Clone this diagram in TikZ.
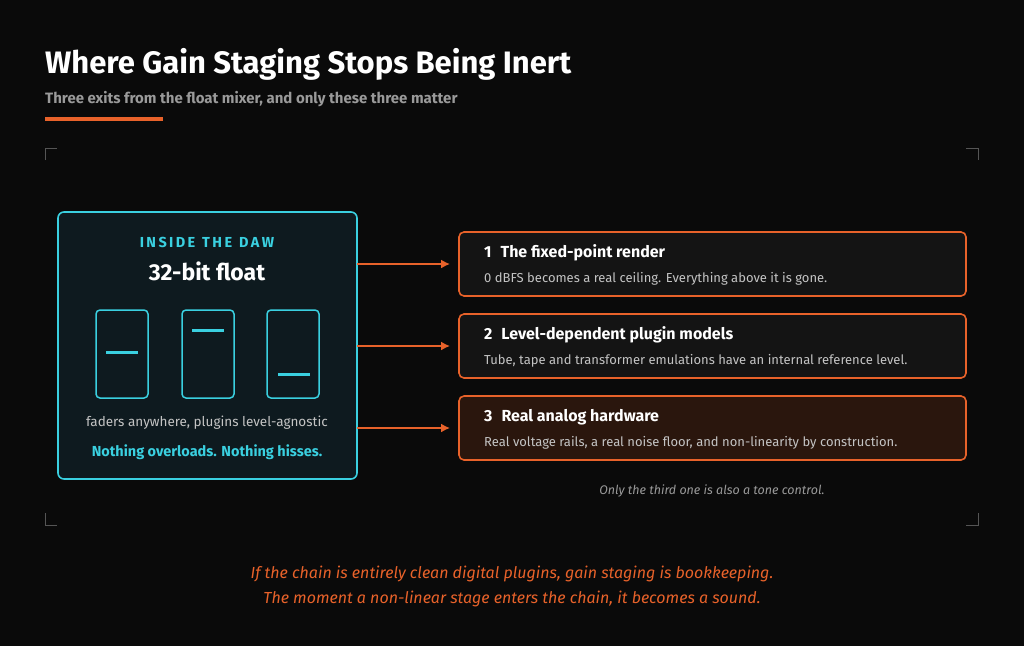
\documentclass[tikz,border=0pt]{standalone}
\usepackage{fontspec}
\usetikzlibrary{arrows.meta}
\setmainfont{Fira Sans}
\definecolor{bg}{HTML}{0A0A0A}
\definecolor{cy}{HTML}{3AD0E0}
\definecolor{cyfill}{HTML}{0E1A1F}
\definecolor{orng}{HTML}{E8622A}
\definecolor{boxfill}{HTML}{141414}
\definecolor{hotfill}{HTML}{2A160D}
\definecolor{gry}{HTML}{9A9A9A}
\definecolor{lgry}{HTML}{C4C4C4}
\definecolor{corner}{HTML}{555555}
\begin{document}
\begin{tikzpicture}[x=1pt,y=-1pt,
  exitbox/.style={draw=orng,line width=1.6pt,rounded corners=5pt,fill=boxfill},
  fader/.style={draw=cy,line width=1.5pt,rounded corners=4pt},
  knob/.style={cy,line width=3pt},
  arr/.style={orng,line width=1.6pt,-{Latex[length=9pt,width=9pt]}},
  ttl/.style={anchor=base west,text=white,font=\fontsize{16}{18}\selectfont\bfseries,inner sep=0},
  dsc/.style={anchor=base west,text=lgry,font=\fontsize{13}{15}\selectfont,inner sep=0},
  cmark/.style={corner,line width=1pt}]
\useasboundingbox (0,0) rectangle (1024,646);
\fill[bg] (0,0) rectangle (1024,646);
\node[anchor=base west,inner sep=0,text=white,font=\fontsize{31}{34}\selectfont\bfseries] (title) at (45,73) {Where Gain Staging Stops Being Inert};
\node[anchor=base west,inner sep=0,text=gry,font=\fontsize{15}{17}\selectfont\bfseries] (sub) at (45,103) {Three exits from the float mixer, and only these three matter};
\fill[orng] (45,117) rectangle (163,121);
% corner marks
\draw[cmark] (45,160) -- (45,148) -- (57,148);
\draw[cmark] (966,148) -- (978,148) -- (978,160);
\draw[cmark] (45,513) -- (45,525) -- (57,525);
\draw[cmark] (966,525) -- (978,525) -- (978,513);
% left box
\draw[cy,fill=cyfill,line width=1.6pt,rounded corners=6pt] (58,212) rectangle (357,479);
\coordinate (L1) at (357,264); \coordinate (L2) at (357,346); \coordinate (L3) at (357,428);
\node[text=cy,font=\fontsize{14.5}{16}\selectfont\bfseries,anchor=base,inner sep=0] (daw) at (207,247) {I\,N\,S\,I\,D\,E\ \ T\,H\,E\ \ D\,A\,W};
\node[text=white,font=\fontsize{23}{26}\selectfont\bfseries,anchor=base,inner sep=0] (fl) at (207,280) {32-bit float};
\draw[fader] (96,310) rectangle (148,398);
\draw[fader] (182,310) rectangle (234,398);
\draw[fader] (267,310) rectangle (319,398);
\draw[knob] (106,352) -- (138,352);
\draw[knob] (192,330) -- (224,330);
\draw[knob] (278,374) -- (310,374);
\node[text=lgry,font=\fontsize{13.5}{15}\selectfont,anchor=base,inner sep=0] (fa) at (207,426) {faders anywhere, plugins level-agnostic};
\node[text=cy,font=\fontsize{14.5}{16}\selectfont\bfseries,anchor=base,inner sep=0] (no) at (207,456) {Nothing overloads. Nothing hisses.};
% right boxes
\draw[exitbox] (459,232) rectangle (966,296);
\draw[exitbox] (459,314) rectangle (966,378);
\draw[exitbox,fill=hotfill] (459,396) rectangle (966,460);
\coordinate (R1) at (450,264); \coordinate (R2) at (450,346); \coordinate (R3) at (450,428);
\draw[arr] (L1) -- (R1);
\draw[arr] (L2) -- (R2);
\draw[arr] (L3) -- (R3);
\node[ttl] (t1) at (484,257) {1\hspace{9pt}The fixed-point render};
\node[dsc] (d1) at (484,282) {0 dBFS becomes a real ceiling. Everything above it is gone.};
\node[ttl] (t2) at (484,339) {2\hspace{9pt}Level-dependent plugin models};
\node[dsc] (d2) at (484,364) {Tube, tape and transformer emulations have an internal reference level.};
\node[ttl] (t3) at (484,421) {3\hspace{9pt}Real analog hardware};
\node[dsc] (d3) at (484,446) {Real voltage rails, a real noise floor, and non-linearity by construction.};
\node[text=gry,font=\fontsize{12.5}{14}\selectfont\itshape,anchor=base,inner sep=0] (only) at (712,494) {Only the third one is also a tone control.};
\node[text=orng,font=\fontsize{16}{18}\selectfont\itshape,anchor=base,inner sep=0] (b1) at (512,578) {If the chain is entirely clean digital plugins, gain staging is bookkeeping.};
\node[text=orng,font=\fontsize{16}{18}\selectfont\itshape,anchor=base,inner sep=0] (b2) at (512,603) {The moment a non-linear stage enters the chain, it becomes a sound.};
\end{tikzpicture}
\end{document}
